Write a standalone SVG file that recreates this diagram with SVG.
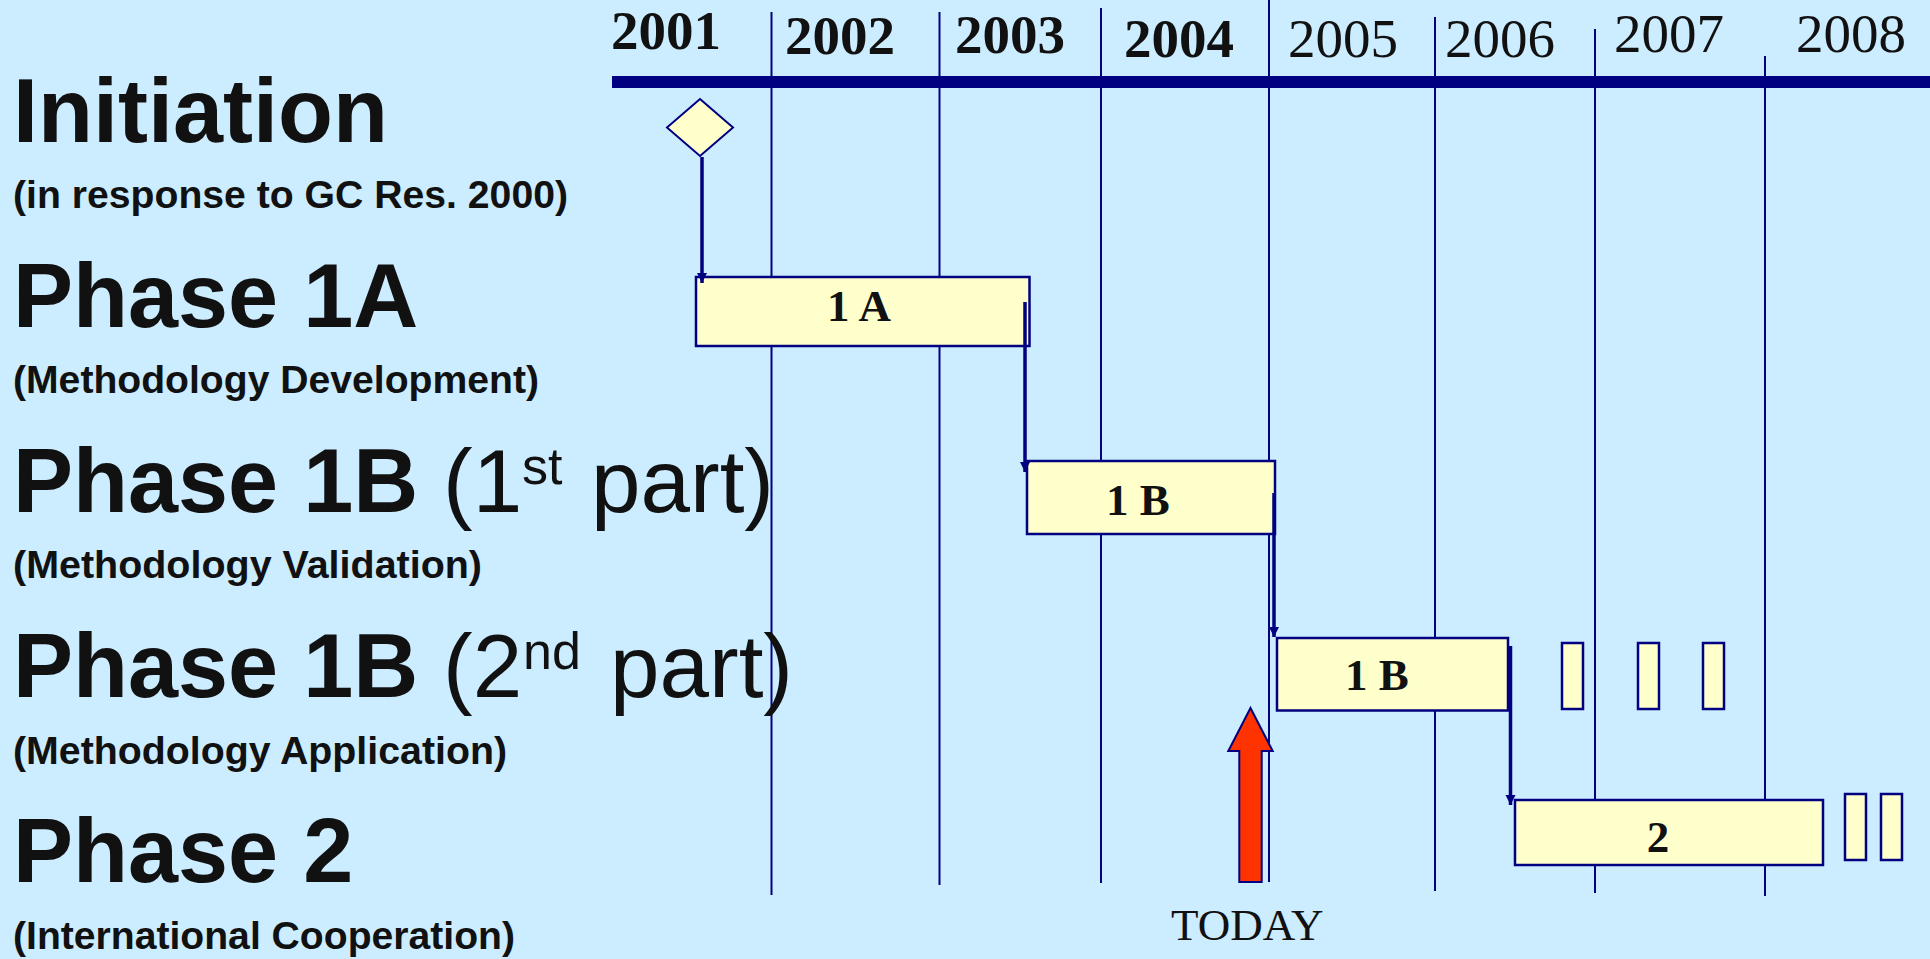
<svg xmlns="http://www.w3.org/2000/svg" width="1930" height="959" viewBox="0 0 1930 959">
<defs>
<style>
.bg{fill:#CCECFF}
.grid{stroke:#000080;stroke-width:2;fill:none}
.bar{fill:#000080}
.box{fill:#FFFFCC;stroke:#000080;stroke-width:2.5}
.conn{stroke:#000080;stroke-width:3.5;fill:none;marker-end:url(#ah)}
.yb{font-family:"Liberation Serif","Times New Roman",serif;font-weight:bold;font-size:55px;fill:#111}
.yr{font-family:"Liberation Serif","Times New Roman",serif;font-size:55px;fill:#111}
.h{font-family:"Liberation Sans",Arial,sans-serif;font-weight:bold;font-size:90px;fill:#111}
.hn{font-weight:normal;font-size:89px}
.sup{font-size:52px;font-weight:normal}
.sub{font-family:"Liberation Sans",Arial,sans-serif;font-weight:bold;font-size:39px;fill:#111}
.bt{font-family:"Liberation Serif","Times New Roman",serif;font-weight:bold;font-size:45px;fill:#111;text-anchor:middle}
.today{font-family:"Liberation Serif","Times New Roman",serif;font-size:45px;fill:#111}
</style>
<marker id="ah" viewBox="0 0 10 10" refX="10" refY="5" markerWidth="10" markerHeight="11" markerUnits="userSpaceOnUse" orient="auto">
<path d="M0,0 L10,5 L0,10 z" fill="#000080"/>
</marker>
</defs>
<rect class="bg" x="0" y="0" width="1930" height="959"/>

<g id="timeline">
<line class="grid" x1="771.5" y1="12" x2="771.5" y2="895"/>
<line class="grid" x1="939.5" y1="12" x2="939.5" y2="885"/>
<line class="grid" x1="1101" y1="8" x2="1101" y2="883"/>
<line class="grid" x1="1269" y1="0" x2="1269" y2="882"/>
<line class="grid" x1="1435" y1="17" x2="1435" y2="891"/>
<line class="grid" x1="1595" y1="29" x2="1595" y2="893"/>
<line class="grid" x1="1765" y1="56" x2="1765" y2="896"/>
<rect class="bar" x="612" y="76" width="1318" height="12"/>
<text class="yb" x="611" y="49">2001</text>
<text class="yb" x="785" y="54">2002</text>
<text class="yb" x="955" y="53">2003</text>
<text class="yb" x="1124" y="57">2004</text>
<text class="yr" x="1288" y="57">2005</text>
<text class="yr" x="1445" y="57">2006</text>
<text class="yr" x="1614" y="52">2007</text>
<text class="yr" x="1796" y="52">2008</text>
</g>

<g id="labels">
<text class="h" x="13" y="142">Initiation</text>
<text class="sub" x="13" y="208" textLength="555" lengthAdjust="spacingAndGlyphs">(in response to GC Res. 2000)</text>
<text class="h" x="13" y="327">Phase 1A</text>
<text class="sub" x="13" y="393" textLength="526" lengthAdjust="spacingAndGlyphs">(Methodology Development)</text>
<text class="h" x="13" y="512">Phase 1B<tspan class="hn" x="443">(1</tspan><tspan class="sup" x="522" dy="-28">st</tspan><tspan class="hn" x="591" dy="28">part)</tspan></text>
<text class="sub" x="13" y="578" textLength="469" lengthAdjust="spacingAndGlyphs">(Methodology Validation)</text>
<text class="h" x="13" y="697">Phase 1B<tspan class="hn" x="443">(2</tspan><tspan class="sup" x="523" dy="-28">nd</tspan><tspan class="hn" x="610" dy="28">part)</tspan></text>
<text class="sub" x="13" y="764" textLength="494" lengthAdjust="spacingAndGlyphs">(Methodology Application)</text>
<text class="h" x="13" y="882">Phase 2</text>
<text class="sub" x="13" y="949" textLength="502" lengthAdjust="spacingAndGlyphs">(International Cooperation)</text>
</g>

<g id="initiation">
<polygon class="box" points="700,99 733,127.5 700,156 667,127.5" style="stroke-width:2"/>
</g>
<g id="phase1a">
<rect class="box" x="696" y="277" width="333.5" height="69"/>
<text class="bt" x="859" y="321">1 A</text>
</g>
<g id="phase1b1">
<rect class="box" x="1027" y="461" width="248" height="73"/>
<text class="bt" x="1138" y="515">1 B</text>
</g>
<g id="phase1b2">
<rect class="box" x="1277" y="638" width="231" height="72.5"/>
<text class="bt" x="1377" y="690">1 B</text>
<rect class="box" x="1562" y="643" width="21" height="66"/>
<rect class="box" x="1638" y="643" width="21" height="66"/>
<rect class="box" x="1703" y="643" width="21" height="66"/>
</g>
<g id="phase2">
<rect class="box" x="1515" y="800" width="308" height="65"/>
<text class="bt" x="1658" y="852">2</text>
<rect class="box" x="1845" y="794" width="21" height="66"/>
<rect class="box" x="1881" y="794" width="21" height="66"/>
</g>

<g id="connectors">
<line class="conn" x1="702" y1="157" x2="702" y2="283"/>
<line class="conn" x1="1025" y1="302" x2="1025" y2="472"/>
<line class="conn" x1="1274" y1="493" x2="1274" y2="637"/>
<line class="conn" x1="1510.5" y1="646" x2="1510.5" y2="805"/>
</g>

<g id="today">
<polygon points="1250.5,708 1272.7,751 1261.7,751 1261.7,882 1239.3,882 1239.3,751 1228.3,751" fill="#FF3300" stroke="#000080" stroke-width="2"/>
<text class="today" x="1171" y="940">TODAY</text>
</g>
</svg>
